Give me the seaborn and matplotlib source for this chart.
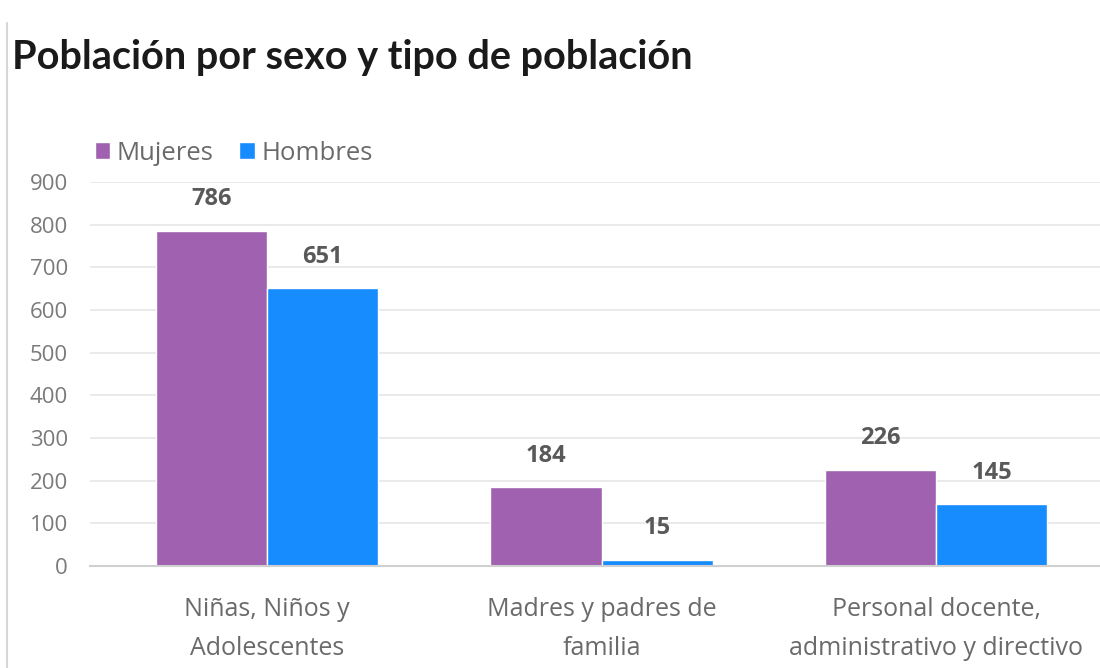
import pandas as pd
import numpy as np
import matplotlib
matplotlib.use('Agg')
import matplotlib.pyplot as plt
import seaborn as sns
from matplotlib.lines import Line2D

# data
categorias = ['Niñas, Niños y\nAdolescentes',
              'Madres y padres de\nfamilia',
              'Personal docente,\nadministrativo y directivo']
mujeres = [786, 184, 226]
hombres = [651, 15, 145]
series = ['Mujeres', 'Hombres']
colores = ['#a062b0', '#168cff']
y_ticks = [0, 100, 200, 300, 400, 500, 600, 700, 800, 900]

df = pd.DataFrame({
    'Tipo': categorias * 2,
    'Sexo': [series[0]] * len(categorias) + [series[1]] * len(categorias),
    'Poblacion': mujeres + hombres,
})

sns.set_theme(style='white')
plt.rcParams['font.family'] = ['Open Sans', 'DejaVu Sans']

fig = plt.figure(figsize=(11, 6.68), dpi=100)
ax = fig.add_axes([90 / 1100, 102 / 668, 1 - 90 / 1100, 384 / 668])

sns.barplot(data=df, x='Tipo', y='Poblacion', hue='Sexo', hue_order=series,
            palette=colores, width=0.665, gap=0, saturation=1, ax=ax,
            order=categorias, errorbar=None, legend=True)

# value labels above bars
for cont in ax.containers:
    ax.bar_label(cont, fmt='%d', padding=14, fontsize=17, fontweight='bold',
                 color='#595959')

ax.set_ylim(0, 900)
ax.set_xlim(-0.53, 2.49)
ax.set_yticks(y_ticks)
ax.yaxis.grid(True, color='#e6e6e6', linewidth=1.2)
ax.set_axisbelow(True)
for s in ['top', 'right', 'left']:
    ax.spines[s].set_visible(False)
ax.spines['bottom'].set_color('#d0d0d0')
ax.spines['bottom'].set_linewidth(1.5)
ax.tick_params(axis='y', length=0, pad=16, labelsize=16, labelcolor='#7a7a7a')
ax.tick_params(axis='x', length=0, pad=22, labelsize=18, labelcolor='#6a6a6a')
for lbl in ax.get_xticklabels():
    lbl.set_linespacing(1.75)
ax.set_xlabel('')
ax.set_ylabel('')

# legend above the plot area
handles, labels = ax.get_legend_handles_labels()
ax.legend(handles, labels, loc='center left', ncol=2, frameon=False,
          bbox_to_anchor=(95 / 1100, 1 - 153 / 668), bbox_transform=fig.transFigure,
          borderpad=0, borderaxespad=0, handlelength=0.6, handleheight=0.6,
          handletextpad=0.25, columnspacing=1.0, fontsize=18.5, labelcolor='#6a6a6a')

# title
fig.text(12 / 1100, 1 - 58 / 668, 'Población por sexo y tipo de población',
         fontsize=28.5, fontweight='bold', color='#1a1a1a', va='center', ha='left',
         family=['Lato', 'DejaVu Sans'])

# thin border on the left edge
fig.add_artist(Line2D([7 / 1100, 7 / 1100], [0, 0.965], color='#d6d6d6',
                      linewidth=1.5, transform=fig.transFigure))

fig.savefig('out.png', dpi=100, facecolor='white')
